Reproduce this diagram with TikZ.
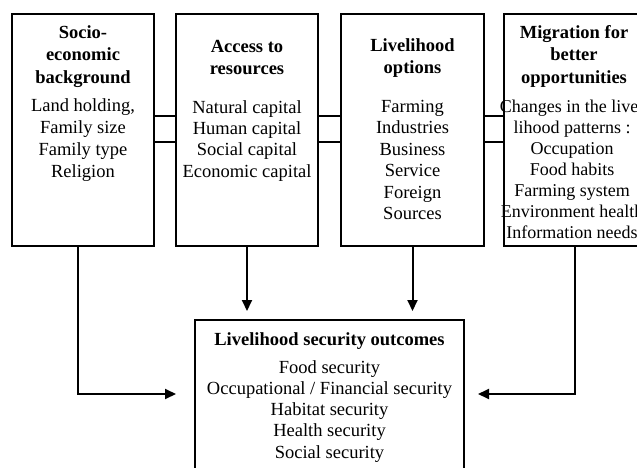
\documentclass[tikz,border=0pt]{standalone}
\usepackage{fontspec}
\setmainfont{Liberation Serif}
\usetikzlibrary{arrows.meta}
\begin{document}
\begin{tikzpicture}[x=1pt,y=-1pt,
  box/.style={draw, line width=2pt, inner sep=0pt, minimum height=232pt},
  ttl/.style={font=\bfseries\fontsize{18.5}{22.5}\selectfont, align=center, anchor=north, inner sep=0pt},
  txt/.style={font=\fontsize{18.5}{21.4}\selectfont, align=center, anchor=north, inner sep=0pt},
  pipe/.style={line width=2pt},
  arr/.style={line width=2pt, -{Triangle[length=11pt,width=10pt]}}]
\useasboundingbox (0,0) rectangle (637,468);
\clip (0,0) rectangle (637,468);
\fill[white] (0,0) rectangle (637,468);
% boxes
\node[box, minimum width=142pt] (b1) at (83,130) {};
\node[box, minimum width=142pt] (b2) at (247,130) {};
\node[box, minimum width=143pt] (b3) at (412.5,130) {};
\node[box, minimum width=141pt] (b4) at (574.5,130) {};
\node[box, minimum width=269pt, minimum height=170pt] (b5) at (329.5,405) {};
% pipes between boxes
\draw[pipe] ([yshift=14pt]b1.east) -- ([yshift=14pt]b2.west);
\draw[pipe] ([yshift=-12pt]b1.east) -- ([yshift=-12pt]b2.west);
\draw[pipe] ([yshift=14pt]b2.east) -- ([yshift=14pt]b3.west);
\draw[pipe] ([yshift=-12pt]b2.east) -- ([yshift=-12pt]b3.west);
\draw[pipe] ([yshift=14pt]b3.east) -- ([yshift=14pt]b4.west);
\draw[pipe] ([yshift=-12pt]b3.east) -- ([yshift=-12pt]b4.west);
% arrows
\coordinate (lt) at (176,394);
\coordinate (rt) at (478,394);
\draw[arr, shorten >=8pt] (b2.south) -- (b2.south |- b5.north);
\draw[arr, shorten >=8pt] (b3.south) -- (b3.south |- b5.north);
\draw[arr] ([xshift=-5pt]b1.south) |- (lt);
\draw[arr] (b4.south) |- (rt);
% texts
\node[ttl] (t1) at (83,25) {Socio-\\economic\\background};
\node[txt, font=\fontsize{18.5}{22}\selectfont] (x1) at (83,98) {Land holding,\\Family size\\Family type\\Religion};
\node[ttl] (t2) at (247,40) {Access to\\resources};
\node[txt] (x2) at (247,100) {Natural capital\\Human capital\\Social capital\\Economic capital};
\node[ttl] (t3) at (412.5,38) {Livelihood\\options};
\node[txt] (x3) at (412.5,100) {Farming\\Industries\\Business\\Service\\Foreign\\Sources};
\node[ttl] (t4) at (574,25) {Migration for\\better\\opportunities};
\node[txt, font=\fontsize{18}{21}\selectfont] (x4) at (572,100) {Changes in the live-\\lihood patterns :\\Occupation\\Food habits\\Farming system\\Environment health\\Information needs};
\node[ttl] (t5) at (329.5,332) {Livelihood security outcomes};
\node[txt, font=\fontsize{18.5}{21.3}\selectfont] (x5) at (329.5,360) {Food security\\Occupational / Financial security\\Habitat security\\Health security\\Social security};
\end{tikzpicture}
\end{document}
